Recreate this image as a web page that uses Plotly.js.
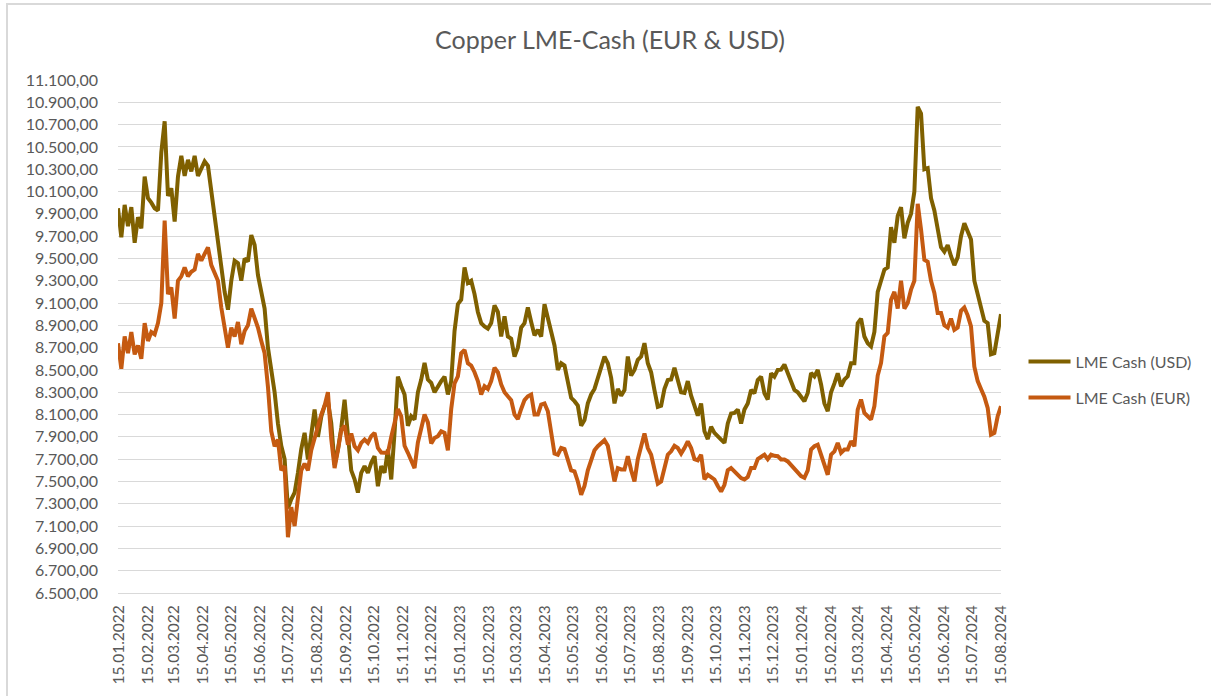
<!DOCTYPE html>
<html>
<head>
<meta charset="utf-8">
<script src="https://cdn.plot.ly/plotly-3.0.1.min.js"></script>
<style>
  html, body { margin: 0; padding: 0; background: #ffffff; }
  #wrap { position: relative; width: 1211px; height: 696px; overflow: hidden; }
  #chart { position: absolute; left: 0; top: 0; width: 1211px; height: 696px; }
  #frame { position: absolute; left: 6px; top: 3px; width: 1300px; height: 800px;
           border: 2px solid #D9D9D9; box-sizing: border-box; pointer-events: none; }
</style>
</head>
<body>
<div id="wrap">
  <div id="chart"></div>
  <div id="frame"></div>
</div>
<script>
// Sampling grid: first and last observation dates, values sampled evenly in between
const firstDate = '2022-01-14';
const lastDate  = '2024-08-15';

const seriesNames = ['LME Cash (USD)', 'LME Cash (EUR)'];

// LME Cash copper price, USD per tonne
const usd = [
  9950, 9690, 9980, 9790, 9960, 9640, 9870, 9770, 10234, 10040,
  10000, 9950, 9930, 10450, 10730, 10060, 10130, 9831, 10234, 10420,
  10240, 10384, 10280, 10420, 10240, 10300, 10370, 10330, 10100, 9880,
  9650, 9450, 9200, 9040, 9300, 9480, 9458, 9300, 9500, 9473,
  9710, 9620, 9350, 9200, 9050, 8700, 8500, 8300, 8020, 7820,
  7700, 7260, 7340, 7399, 7578, 7790, 7936, 7697, 7920, 8145,
  7900, 8080, 8180, 8220, 8025, 7650, 7787, 7980, 8234, 7880,
  7600, 7520, 7400, 7578, 7638, 7578, 7667, 7727, 7458, 7637,
  7578, 7787, 7518, 7940, 8440, 8354, 8280, 8000, 8085, 8055,
  8300, 8414, 8563, 8414, 8384, 8300, 8354, 8400, 8440, 8280,
  8400, 8850, 9090, 9130, 9420, 9280, 9300, 9180, 9020, 8920,
  8890, 8870, 8920, 9080, 9020, 8800, 8980, 8800, 8780, 8620,
  8700, 8880, 8920, 9060, 8930, 8810, 8860, 8800, 9090, 8960,
  8810, 8720, 8500, 8560, 8540, 8400, 8250, 8220, 8180, 8000,
  8050, 8200, 8280, 8330, 8420, 8520, 8620, 8560, 8430, 8200,
  8330, 8270, 8320, 8620, 8450, 8500, 8590, 8620, 8740, 8560,
  8480, 8320, 8170, 8180, 8330, 8410, 8414, 8520, 8420, 8300,
  8294, 8400, 8270, 8170, 8090, 8200, 7950, 7880, 7990, 7936,
  7900, 7876, 7846, 8020, 8110, 8115, 8145, 8020, 8145, 8200,
  8320, 8290, 8410, 8440, 8290, 8234, 8470, 8440, 8500, 8503,
  8548, 8470, 8410, 8320, 8300, 8264, 8220, 8294, 8473, 8443,
  8500, 8370, 8200, 8130, 8300, 8380, 8470, 8354, 8414, 8443,
  8560, 8560, 8920, 8960, 8800, 8740, 8712, 8840, 9200, 9300,
  9399, 9420, 9780, 9640, 9880, 9960, 9680, 9820, 9900, 10100,
  10860, 10800, 10300, 10310, 10040, 9930, 9760, 9600, 9560, 9620,
  9520, 9440, 9510, 9700, 9816, 9740, 9670, 9300, 9190, 9050,
  8940, 8920, 8640, 8650, 8840, 9000
];

// LME Cash copper price, EUR per tonne
const eur = [
  8740, 8510, 8800, 8650, 8840, 8640, 8720, 8600, 8920, 8760,
  8840, 8820, 8920, 9100, 9840, 9180, 9240, 8960, 9300, 9339,
  9420, 9340, 9380, 9400, 9540, 9480, 9540, 9600, 9440, 9369,
  9300, 9060, 8900, 8700, 8880, 8800, 8930, 8730, 8850, 8900,
  9050, 8960, 8880, 8760, 8650, 8350, 7950, 7816, 7876, 7600,
  7637, 7000, 7270, 7100, 7370, 7600, 7660, 7600, 7780, 7890,
  7990, 8100, 8180, 8300, 7880, 7620, 7780, 7960, 8000, 7830,
  7930, 7816, 7780, 7846, 7876, 7846, 7906, 7936, 7800, 7760,
  7757, 7757, 7900, 8020, 8150, 8085, 7820, 7757, 7697, 7620,
  7850, 7970, 8100, 8030, 7840, 7890, 7906, 7950, 7936, 7780,
  8150, 8380, 8443, 8650, 8680, 8560, 8540, 8480, 8400, 8280,
  8354, 8330, 8400, 8520, 8480, 8370, 8300, 8264, 8230, 8100,
  8060, 8150, 8230, 8264, 8280, 8100, 8100, 8190, 8200, 8130,
  7950, 7750, 7740, 7800, 7790, 7700, 7600, 7590, 7500, 7380,
  7460, 7600, 7700, 7780, 7816, 7840, 7870, 7820, 7680, 7500,
  7620, 7608, 7608, 7727, 7600, 7500, 7700, 7830, 7930, 7800,
  7740, 7610, 7480, 7500, 7620, 7740, 7770, 7820, 7800, 7750,
  7800, 7860, 7800, 7700, 7690, 7740, 7520, 7560, 7540, 7518,
  7460, 7410, 7470, 7600, 7620, 7590, 7550, 7530, 7518, 7540,
  7620, 7620, 7700, 7720, 7740, 7700, 7740, 7730, 7727, 7697,
  7697, 7680, 7650, 7610, 7578, 7548, 7533, 7600, 7787, 7816,
  7830, 7727, 7650, 7560, 7740, 7770, 7846, 7757, 7787, 7787,
  7861, 7816, 8145, 8235, 8115, 8085, 8055, 8175, 8450, 8563,
  8800, 8832, 9130, 9200, 9050, 9300, 9050, 9100, 9220, 9300,
  9990, 9760, 9488, 9470, 9300, 9190, 9011, 9011, 8900, 8880,
  8960, 8860, 8880, 9030, 9060, 8990, 8891, 8530, 8400, 8330,
  8260, 8160, 7920, 7936, 8085, 8175
];

// build the date for each sample (evenly spaced observations between first and last date)
function sampleDates(n) {
  const t0 = Date.parse(firstDate + 'T00:00:00Z');
  const t1 = Date.parse(lastDate + 'T00:00:00Z');
  const out = [];
  for (let i = 0; i < n; i++) {
    const t = t0 + (t1 - t0) * i / (n - 1);
    out.push(new Date(t).toISOString().slice(0, 19).replace('T', ' '));
  }
  return out;
}
const dates = sampleDates(usd.length);

const txt = '#595959';
const grid = '#D9D9D9';
const fontFam = 'Lato, "Open Sans", "DejaVu Sans", sans-serif';

const traces = [
  { x: dates, y: usd, name: seriesNames[0], type: 'scatter', mode: 'lines',
    line: { color: '#7F6000', width: 4 }, legendgroup: 'a' },
  { x: dates, y: eur, name: seriesNames[1], type: 'scatter', mode: 'lines',
    line: { color: '#C55A11', width: 4 }, legendgroup: 'b' }
];

const layout = {
  width: 1211, height: 696,
  paper_bgcolor: 'rgba(0,0,0,0)', plot_bgcolor: 'rgba(0,0,0,0)',
  margin: { l: 118, r: 210, t: 80, b: 103, pad: 0 },
  separators: ',.',
  font: { family: fontFam, color: txt, size: 16 },
  title: { text: 'Copper LME-Cash (EUR & USD)', x: 610/1211, xref: 'container', xanchor: 'center',
           y: 1 - 40/696, yref: 'container', yanchor: 'middle',
           font: { family: fontFam, size: 25, color: txt } },
  xaxis: {
    type: 'date', range: [firstDate, lastDate],
    tick0: '2022-01-15', dtick: 'M1', tickformat: '%d.%m.%Y', tickangle: -90,
    showgrid: false, zeroline: false, showline: true, linecolor: grid, linewidth: 1,
    ticks: '', tickfont: { family: fontFam, size: 15.5, color: txt }, ticklabelstandoff: 5,
    fixedrange: true
  },
  yaxis: {
    range: [6500, 11100], dtick: 200, tick0: 6500, tickformat: ',.2f',
    showgrid: true, gridcolor: grid, gridwidth: 1, zeroline: false, showline: false,
    ticks: '', tickfont: { family: fontFam, size: 16, color: txt }, ticklabelstandoff: 19,
    fixedrange: true
  },
  showlegend: true,
  legend: {
    x: 1.0255, xanchor: 'left', y: 0.484, yanchor: 'top', orientation: 'v',
    traceorder: 'grouped', tracegroupgap: 12, itemwidth: 42,
    font: { family: fontFam, size: 16, color: txt }, bgcolor: 'rgba(0,0,0,0)'
  }
};

Plotly.newPlot('chart', traces, layout, { displayModeBar: false, staticPlot: true });
</script>
</body>
</html>
